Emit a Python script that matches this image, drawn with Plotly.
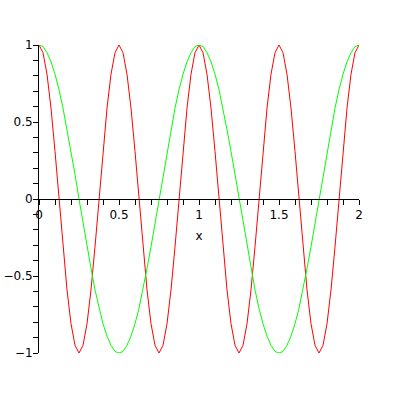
import plotly.graph_objects as go

x_vals = [0.0, 0.025, 0.05, 0.075, 0.1, 0.125, 0.15, 0.175, 0.2, 0.225,
          0.25, 0.275, 0.3, 0.325, 0.35, 0.375, 0.4, 0.425, 0.45, 0.475,
          0.5, 0.525, 0.55, 0.575, 0.6, 0.625, 0.65, 0.675, 0.7, 0.725,
          0.75, 0.775, 0.8, 0.825, 0.85, 0.875, 0.9, 0.925, 0.95, 0.975,
          1.0, 1.025, 1.05, 1.075, 1.1, 1.125, 1.15, 1.175, 1.2, 1.225,
          1.25, 1.275, 1.3, 1.325, 1.35, 1.375, 1.4, 1.425, 1.45, 1.475,
          1.5, 1.525, 1.55, 1.575, 1.6, 1.625, 1.65, 1.675, 1.7, 1.725,
          1.75, 1.775, 1.8, 1.825, 1.85, 1.875, 1.9, 1.925, 1.95, 1.975,
          2.0]

red_vals = [1, 0.95, 0.81, 0.59, 0.31, 0, -0.31, -0.59, -0.81, -0.95,
            -1, -0.95, -0.81, -0.59, -0.31, 0, 0.31, 0.59, 0.81, 0.95,
            1, 0.95, 0.81, 0.59, 0.31, 0, -0.31, -0.59, -0.81, -0.95,
            -1, -0.95, -0.81, -0.59, -0.31, 0, 0.31, 0.59, 0.81, 0.95,
            1, 0.95, 0.81, 0.59, 0.31, 0, -0.31, -0.59, -0.81, -0.95,
            -1, -0.95, -0.81, -0.59, -0.31, 0, 0.31, 0.59, 0.81, 0.95,
            1, 0.95, 0.81, 0.59, 0.31, 0, -0.31, -0.59, -0.81, -0.95,
            -1, -0.95, -0.81, -0.59, -0.31, 0, 0.31, 0.59, 0.81, 0.95,
            1]

green_vals = [1, 0.99, 0.95, 0.89, 0.81, 0.71, 0.59, 0.45, 0.31, 0.16,
              0, -0.16, -0.31, -0.45, -0.59, -0.71, -0.81, -0.89, -0.95, -0.99,
              -1, -0.99, -0.95, -0.89, -0.81, -0.71, -0.59, -0.45, -0.31, -0.16,
              0, 0.16, 0.31, 0.45, 0.59, 0.71, 0.81, 0.89, 0.95, 0.99,
              1, 0.99, 0.95, 0.89, 0.81, 0.71, 0.59, 0.45, 0.31, 0.16,
              0, -0.16, -0.31, -0.45, -0.59, -0.71, -0.81, -0.89, -0.95, -0.99,
              -1, -0.99, -0.95, -0.89, -0.81, -0.71, -0.59, -0.45, -0.31, -0.16,
              0, 0.16, 0.31, 0.45, 0.59, 0.71, 0.81, 0.89, 0.95, 0.99,
              1]

fig = go.Figure()
fig.add_trace(go.Scatter(x=x_vals, y=red_vals, mode="lines",
                         line=dict(color="#ff0000", width=1), showlegend=False))
fig.add_trace(go.Scatter(x=x_vals, y=green_vals, mode="lines",
                         line=dict(color="#00ff00", width=1), showlegend=False))

font = dict(family="DejaVu Sans, sans-serif", size=12, color="black")

fig.update_layout(
    width=400, height=400, autosize=False,
    margin=dict(l=39, r=41, t=45, b=47, autoexpand=False),
    paper_bgcolor="white", plot_bgcolor="white",
    font=font,
    xaxis=dict(range=[0, 2], anchor="free", position=0.5, automargin=False,
               showline=True, linecolor="black", linewidth=1,
               ticks="outside", ticklen=5, tickwidth=1, tickcolor="black",
               tick0=0, dtick=0.5,
               minor=dict(dtick=0.1, ticks="outside", ticklen=5, tickcolor="black", tickwidth=1, showgrid=False),
               showgrid=False, zeroline=False,
               title=dict(text="x", font=font, standoff=10)),
    yaxis=dict(range=[-1, 1], automargin=False,
               showline=True, linecolor="black", linewidth=1,
               ticks="outside", ticklen=5, tickwidth=1, tickcolor="black",
               tick0=0, dtick=0.5, ticklabelstandoff=-2,
               minor=dict(dtick=0.1, ticks="outside", ticklen=5, tickcolor="black", tickwidth=1, showgrid=False),
               showgrid=False, zeroline=False),
)

fig.write_html("out.html", config={"displayModeBar": False},
               post_script="document.body.style.margin='0';")
